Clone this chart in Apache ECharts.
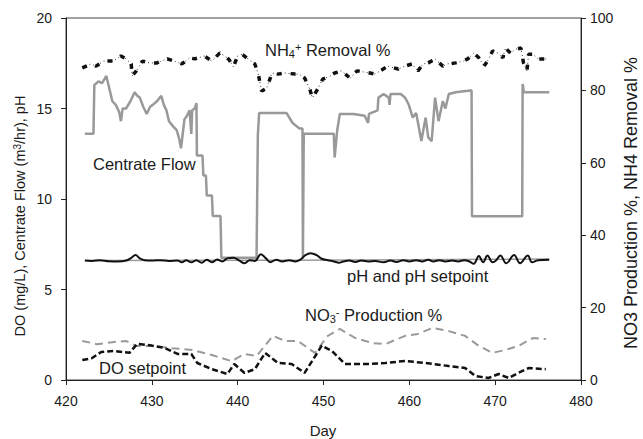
<!DOCTYPE html>
<html>
<head>
<meta charset="utf-8">
<script src="https://cdn.jsdelivr.net/npm/echarts@6/dist/echarts.min.js"></script>
<style>
html,body{margin:0;padding:0;background:#fff;}
#chart{width:643px;height:439px;}
</style>
</head>
<body>
<div id="chart"></div>
<script>
// ---- Data ----
const xTicks = [420, 430, 440, 450, 460, 470, 480];
const leftTicks = [0, 5, 10, 15, 20];
const rightTicks = [0, 20, 40, 60, 80, 100];

const flowDays = [422.2,423.2,423.3,423.8,424.2,424.7,425.0,425.4,425.8,426.2,426.4,426.6,427.0,427.5,428.0,428.3,428.6,429.0,429.4,429.8,430.1,430.6,431.1,431.4,431.7,432.0,432.5,432.9,433.2,433.4,433.6,433.8,434.1,434.4,434.6,434.7,435.0,435.2,435.25,435.9,436.0,436.3,436.4,437.0,437.1,438.0,438.1,442.2,442.35,442.5,445.7,446.4,447.2,447.55,447.6,447.7,451.2,451.3,451.6,451.9,453.5,454.8,455.2,455.3,456.3,456.4,457.0,457.6,457.7,457.8,459.0,459.5,459.9,460.4,460.8,461.4,461.9,462.2,462.6,463.0,463.4,463.9,464.2,464.6,465.4,467.1,467.25,467.3,473.15,473.2,473.35,476.3];
const flowVals = [13.6,13.6,16.3,16.5,16.4,16.8,16.2,15.4,15.2,14.8,14.3,15.0,15.0,15.4,15.9,15.7,15.6,15.1,14.7,15.1,15.2,15.4,15.7,15.2,14.9,14.3,14.0,13.8,13.3,12.8,13.6,14.4,14.6,14.9,13.6,14.9,15.0,15.3,12.4,12.4,11.3,11.3,10.2,10.2,9.06,9.06,6.75,6.75,13.5,14.75,14.75,14.2,13.9,13.9,6.7,13.6,13.6,12.3,13.8,14.7,14.7,14.6,14.2,14.7,14.9,15.6,15.8,15.6,15.2,15.8,15.8,15.6,15.25,14.5,14.75,13.2,14.5,13.4,13.2,15.6,14.3,15.4,15.0,15.8,15.9,16.0,16.0,9.05,9.05,16.35,15.9,15.9];

const phDays = [422.2,423,424,425,426,427,427.6,428.1,428.6,429.2,430,431,432,433,433.5,434,434.6,435.2,435.8,436.4,437,437.6,438.2,438.8,439.5,440.2,440.8,441.4,442,442.7,443.3,443.8,444.5,445.2,446,446.7,447.3,447.9,448.5,449.2,449.8,450.5,451.2,451.8,452.3,453,453.7,454.4,455.2,456,457,457.8,458.5,459.3,460,460.8,461.5,462.2,462.8,463.5,464.2,465,465.7,466.4,467.0,467.5,468.1,468.6,469.1,469.7,470.1,470.6,471.3,472.2,472.9,473.8,474.3,475,476.3];
const phVals = [6.6,6.58,6.62,6.56,6.55,6.6,6.75,6.9,6.72,6.62,6.6,6.62,6.58,6.6,6.5,6.62,6.5,6.62,6.48,6.64,6.5,6.66,6.55,6.72,6.75,6.6,6.45,6.62,6.58,6.95,6.72,6.5,6.65,6.55,6.62,6.55,6.65,6.9,7.0,6.9,6.7,6.62,6.55,6.48,6.55,6.6,6.52,6.6,6.55,6.58,6.5,6.6,6.52,6.62,6.55,6.62,6.55,6.65,6.55,6.62,6.55,6.6,6.55,6.62,6.55,6.42,6.85,6.5,6.88,6.5,6.6,6.88,6.45,6.9,6.45,6.88,6.5,6.62,6.65];

const phSetDays = [422.2, 447.0, 476.3];
const phSetVals = [6.6, 6.62, 6.68];

const nh4Days = [421.9,422.9,423.5,424.4,425.5,426.4,427.0,427.6,427.7,428.2,428.9,429.7,430.6,431.8,432.6,433.5,434.4,435.0,436.1,437.0,437.9,438.5,439.0,439.5,440.0,440.5,441.2,442.0,442.4,442.8,443.4,444.0,444.7,445.5,446.7,447.2,447.8,448.4,448.7,449.4,449.9,450.8,451.3,452.1,453.1,453.9,455.4,456.0,457.5,458.7,459.5,460.3,461.0,461.6,462.2,463.0,463.9,464.4,465.4,466.3,466.8,467.5,468.1,468.7,469.1,469.7,470.3,470.9,471.2,471.8,472.4,473.0,473.3,473.7,473.9,474.4,475.0,475.9,476.3];
const nh4Vals = [86.2,87.3,86.7,88.1,88.1,89.5,88.7,87.3,84.0,85.4,88.1,87.6,87.6,88.7,88.1,87.3,89.0,88.7,89.5,88.1,90.3,89.5,88.5,86.5,89.5,90.0,88.7,87.3,84.5,79.8,80.7,84.8,84.5,84.8,84.5,84.5,83.4,80.4,77.9,80.7,83.1,84.0,84.8,85.4,83.4,85.4,84.8,84.5,86.7,85.9,86.7,87.3,85.4,87.3,87.6,88.7,86.7,87.3,87.6,88.1,88.7,90.3,89.0,86.7,88.1,90.9,90.3,89.0,91.7,90.3,91.4,91.7,87.6,85.4,90.0,90.0,88.7,88.7,88.7];

const no3Days = [421.9,423.6,425.6,427.0,428.2,430.0,432.3,434.7,437.0,439.3,440.8,442.2,444.1,445.5,447.0,449.0,450.5,451.9,453.7,455.7,457.2,459.5,461.0,462.7,464.6,466.5,468.1,469.7,471.2,472.7,474.4,475.9];
const no3Vals = [10.8,9.9,10.5,10.8,9.4,9.4,8.8,8.3,6.9,5.2,7.2,6.6,12.2,10.8,10.8,7.5,12.2,14.1,11.6,10.2,9.9,12.2,12.7,14.4,13.5,12.2,9.4,7.5,8.3,9.4,11.6,11.3];

const doDays = [421.9,423.0,424.1,425.6,427.4,428.3,430.0,431.5,433.0,434.6,435.3,437.0,438.8,439.6,440.8,442.0,443.2,444.7,446.3,447.8,449.8,451.0,452.5,454.9,457.2,459.5,461.9,464.6,466.5,467.7,469.2,470.4,471.6,472.7,473.9,475.9];
const doVals = [1.1,1.2,1.55,1.6,1.5,2.0,1.9,1.77,1.44,1.44,0.94,0.6,0.33,0.88,0.39,0.6,1.5,0.94,0.88,0.39,1.9,1.6,0.88,0.88,0.94,1.05,0.94,0.77,0.66,0.22,0.11,0.33,0.11,0.39,0.66,0.6];

// ---- Build ----
const zip = (a, b) => a.map((d, i) => [d, b[i]]);
const FONT = '"Liberation Sans", Arial, sans-serif';
const txt = '#1a1a1a';

const chart = echarts.init(document.getElementById('chart'), null, {renderer: 'svg'});
const rich = {
  sub: {fontSize: 11, fontFamily: FONT, color: txt, verticalAlign: 'bottom', padding: [7, 0, 0, 0]},
  sup: {fontSize: 11, fontFamily: FONT, color: txt, verticalAlign: 'top', padding: [0, 0, 7, 0]}
};
const richSmall = {
  sup: {fontSize: 10, fontFamily: FONT, color: txt, verticalAlign: 'top', padding: [0, 0, 6, 0]}
};
function label(x, y, text) {
  return {
    type: 'text', x: x, y: y, z: 100,
    style: {text: text, font: '16.5px ' + FONT, fill: txt, align: 'left', verticalAlign: 'middle', rich: rich}
  };
}

chart.setOption({
  animation: false,
  backgroundColor: '#fff',
  grid: {left: 66, right: 62, top: 18, bottom: 59, show: true, borderColor: '#444', borderWidth: 1},
  xAxis: {
    type: 'value', min: xTicks[0], max: xTicks[xTicks.length - 1], interval: 10,
    axisLine: {show: true, onZero: false, lineStyle: {color: '#222', width: 1}},
    axisTick: {show: true, length: 5, lineStyle: {color: '#222'}},
    axisLabel: {fontSize: 14, fontFamily: FONT, color: txt, margin: 14},
    splitLine: {show: false}
  },
  yAxis: [
    {
      type: 'value', min: leftTicks[0], max: leftTicks[leftTicks.length - 1], interval: 5,
      axisLine: {show: true, lineStyle: {color: '#222'}},
      axisTick: {show: true, length: 5, lineStyle: {color: '#222'}},
      axisLabel: {fontSize: 14, fontFamily: FONT, color: txt, margin: 14},
      splitLine: {show: false}
    },
    {
      type: 'value', min: rightTicks[0], max: rightTicks[rightTicks.length - 1], interval: 20,
      position: 'right',
      axisLine: {show: true, lineStyle: {color: '#222'}},
      axisTick: {show: true, length: 5, lineStyle: {color: '#222'}},
      axisLabel: {fontSize: 14, fontFamily: FONT, color: txt, margin: 9},
      splitLine: {show: false}
    }
  ],
  series: [
    {name: 'pH setpoint', type: 'line', yAxisIndex: 0, data: zip(phSetDays, phSetVals), showSymbol: false,
      lineStyle: {color: '#9a9a9a', width: 1.5}, z: 2},
    {name: 'Centrate Flow', type: 'line', yAxisIndex: 0, data: zip(flowDays, flowVals), showSymbol: false,
      lineStyle: {color: '#999999', width: 2.5}, z: 3},
    {name: 'pH', type: 'line', yAxisIndex: 0, data: zip(phDays, phVals), showSymbol: false, smooth: 0.4,
      lineStyle: {color: '#111', width: 2}, z: 4},
    {name: 'NO3 Production %', type: 'line', yAxisIndex: 1, data: zip(no3Days, no3Vals), showSymbol: false,
      lineStyle: {color: '#9a9a9a', width: 2, type: [8, 5]}, z: 3},
    {name: 'DO setpoint', type: 'line', yAxisIndex: 0, data: zip(doDays, doVals), showSymbol: false,
      lineStyle: {color: '#111', width: 2.5, type: [6, 3]}, z: 4},
    {name: 'NH4 Removal % (thin)', type: 'line', yAxisIndex: 1, data: zip(nh4Days, nh4Vals), showSymbol: false,
      lineStyle: {color: '#333', width: 1, type: [1, 3]}, z: 4},
    {name: 'NH4 Removal %', type: 'line', yAxisIndex: 1, data: zip(nh4Days, nh4Vals), showSymbol: false,
      lineStyle: {color: '#111', width: 3.5, type: [5, 9]}, z: 5}
  ],
  graphic: [
    label(265, 50, 'NH{sub|4}{sup|+} Removal %'),
    label(93, 164, 'Centrate Flow'),
    label(347, 276, 'pH and pH setpoint'),
    label(305, 315, 'NO{sub|3}{sup|-} Production %'),
    label(99, 368, 'DO setpoint'),
    {type: 'text', x: 323, y: 430, z: 100,
      style: {text: 'Day', font: '15px ' + FONT, fill: txt, align: 'center', verticalAlign: 'middle'}},
    {type: 'text', x: 20, y: 216, rotation: Math.PI / 2, z: 100,
      style: {text: 'DO (mg/L), Centrate Flow (m{sup|3}/hr), pH', font: '14.5px ' + FONT, fill: txt, align: 'center', verticalAlign: 'middle', rich: richSmall}},
    {type: 'text', x: 631, y: 203, rotation: Math.PI / 2, z: 100,
      style: {text: 'NO3 Production %, NH4 Removal %', font: '18px ' + FONT, fill: txt, align: 'center', verticalAlign: 'middle'}}
  ]
});
</script>
</body>
</html>
